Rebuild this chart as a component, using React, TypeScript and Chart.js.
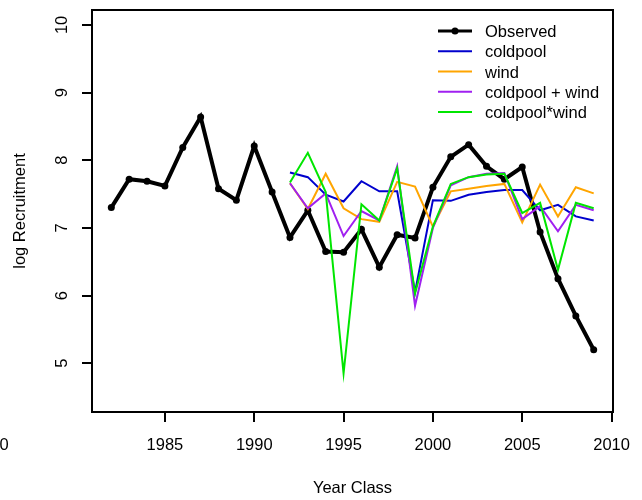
import React, { useEffect, useRef } from "react";
import { Chart, registerables } from "chart.js";

Chart.register(...registerables);

// ---- data ----
const years = [
  1982, 1983, 1984, 1985, 1986, 1987, 1988, 1989, 1990, 1991, 1992, 1993, 1994, 1995,
  1996, 1997, 1998, 1999, 2000, 2001, 2002, 2003, 2004, 2005, 2006, 2007, 2008, 2009,
];
const observed = [
  7.30, 7.72, 7.69, 7.62, 8.19, 8.64, 7.58, 7.41, 8.21, 7.53, 6.86, 7.26, 6.65, 6.64,
  6.98, 6.42, 6.90, 6.85, 7.60, 8.05, 8.23, 7.91, 7.72, 7.90, 6.94, 6.25, 5.70, 5.20,
];
const modelYears = [
  1992, 1993, 1994, 1995, 1996, 1997, 1998, 1999, 2000, 2001, 2002, 2003, 2004, 2005,
  2006, 2007, 2008, 2009,
];
const coldpool = [
  7.82, 7.75, 7.49, 7.39, 7.69, 7.54, 7.54, 6.05, 7.41, 7.40, 7.49, 7.53, 7.56, 7.56,
  7.26, 7.34, 7.17, 7.11,
];
const wind = [
  7.66, 7.28, 7.80, 7.29, 7.13, 7.09, 7.68, 7.61, 7.02, 7.54, 7.58, 7.62, 7.65, 7.08,
  7.64, 7.17, 7.60, 7.51,
];
const coldpoolPlusWind = [
  7.66, 7.29, 7.51, 6.88, 7.25, 7.11, 7.91, 5.85, 7.00, 7.63, 7.75, 7.80, 7.81, 7.13,
  7.32, 6.95, 7.34, 7.26,
];
const coldpoolTimesWind = [
  7.67, 8.11, 7.53, 4.85, 7.35, 7.11, 7.88, 6.03, 7.02, 7.65, 7.75, 7.79, 7.80, 7.22,
  7.37, 6.38, 7.37, 7.29,
];
const seriesLabels = ["Observed", "coldpool", "wind", "coldpool + wind", "coldpool*wind"];
const seriesColors = ["#000000", "#0000CD", "#FFA500", "#A020F0", "#00E600"];
const xTicks = [1985, 1990, 1995, 2000, 2005, 2010];
const yTicks = [5, 6, 7, 8, 9, 10];
const xRange = [1980.92, 2010.08];
const yRange = [4.28, 10.22];
const xTitle = "Year Class";
const yTitle = "log Recruitment";
const strayLabel = "0";

const FONT = '16.5px "Liberation Sans", Arial, Helvetica, sans-serif';

const toPoints = (xs: number[], ys: number[]) => xs.map((x, i) => ({ x, y: ys[i] }));

const rPlotPlugin = {
  id: "rPlot",
  afterDraw(chart: any) {
    const { ctx, chartArea } = chart;
    const xs = chart.scales.x;
    const ys = chart.scales.y;
    ctx.save();
    // frame
    ctx.strokeStyle = "#000";
    ctx.lineWidth = 2;
    ctx.strokeRect(chartArea.left, chartArea.top, chartArea.right - chartArea.left, chartArea.bottom - chartArea.top);

    ctx.fillStyle = "#000";
    ctx.font = FONT;
    // x tick labels
    ctx.textAlign = "center";
    ctx.textBaseline = "alphabetic";
    xs.ticks.forEach((t: any) => {
      ctx.fillText(String(t.value), xs.getPixelForValue(t.value), 450);
    });
    // y tick labels (rotated)
    ys.ticks.forEach((t: any) => {
      ctx.save();
      ctx.translate(66.5, ys.getPixelForValue(t.value));
      ctx.rotate(-Math.PI / 2);
      ctx.textAlign = "center";
      ctx.fillText(String(t.value), 0, 0);
      ctx.restore();
    });
    // titles
    ctx.textAlign = "center";
    ctx.fillText(xTitle, (chartArea.left + chartArea.right) / 2, 493);
    ctx.save();
    ctx.translate(25, (chartArea.top + chartArea.bottom) / 2);
    ctx.rotate(-Math.PI / 2);
    ctx.fillText(yTitle, 0, 0);
    ctx.restore();
    // stray clipped label at the left edge
    ctx.textAlign = "left";
    ctx.fillText(strayLabel, -0.5, 450);

    // legend
    chart.data.datasets.forEach((ds: any, i: number) => {
      const y = 31 + i * 20.25;
      ctx.strokeStyle = ds.borderColor;
      ctx.lineWidth = i === 0 ? 3 : 2;
      ctx.beginPath();
      ctx.moveTo(438, y);
      ctx.lineTo(472, y);
      ctx.stroke();
      if (i === 0) {
        ctx.beginPath();
        ctx.arc(455, y, 3.5, 0, Math.PI * 2);
        ctx.fillStyle = ds.borderColor;
        ctx.fill();
      }
      ctx.fillStyle = "#000";
      ctx.textAlign = "left";
      ctx.fillText(ds.label, 485, y + 6);
    });
    ctx.restore();
  },
};

export default function App() {
  const ref = useRef<HTMLCanvasElement | null>(null);
  useEffect(() => {
    if (!ref.current) return;
    const modelSeries = [coldpool, wind, coldpoolPlusWind, coldpoolTimesWind];
    const datasets: any[] = [
      {
        label: seriesLabels[0],
        data: toPoints(years, observed),
        borderColor: seriesColors[0],
        backgroundColor: seriesColors[0],
        borderWidth: 4,
        pointRadius: 3.5,
        pointBorderWidth: 0,
        pointBackgroundColor: seriesColors[0],
        tension: 0,
        order: 10,
      },
      ...modelSeries.map((vals, i) => ({
        label: seriesLabels[i + 1],
        data: toPoints(modelYears, vals),
        borderColor: seriesColors[i + 1],
        backgroundColor: seriesColors[i + 1],
        borderWidth: 2,
        pointRadius: 0,
        tension: 0,
        order: 4 - i,
      })),
    ];
    const chart = new Chart(ref.current, {
      type: "line",
      data: { datasets },
      plugins: [rPlotPlugin],
      options: {
        responsive: false,
        animation: false,
        devicePixelRatio: 1,
        layout: { padding: { top: 10, right: 29, left: 0, bottom: 0 } },
        plugins: { legend: { display: false }, tooltip: { enabled: false } },
        scales: {
          x: {
            type: "linear",
            min: xRange[0],
            max: xRange[1],
            afterBuildTicks: (s: any) => {
              s.ticks = xTicks.map((v) => ({ value: v }));
            },
            afterFit: (s: any) => {
              s.height = 88;
            },
            border: { display: false },
            grid: { drawOnChartArea: false, drawTicks: true, tickLength: 10, tickColor: "#000", tickWidth: 2, color: "#000", lineWidth: 2 },
            ticks: { display: false },
          },
          y: {
            type: "linear",
            min: yRange[0],
            max: yRange[1],
            afterBuildTicks: (s: any) => {
              s.ticks = yTicks.map((v) => ({ value: v }));
            },
            afterFit: (s: any) => {
              s.width = 92;
            },
            border: { display: false },
            grid: { drawOnChartArea: false, drawTicks: true, tickLength: 10, tickColor: "#000", tickWidth: 2, color: "#000", lineWidth: 2 },
            ticks: { display: false },
          },
        },
      } as any,
    });
    return () => chart.destroy();
  }, []);
  return (
    <div style={{ position: "absolute", left: 0, top: 0, width: 642, height: 500, background: "#fff" }}>
      <canvas ref={ref} width={642} height={500} style={{ display: "block", width: 642, height: 500 }} />
    </div>
  );
}
